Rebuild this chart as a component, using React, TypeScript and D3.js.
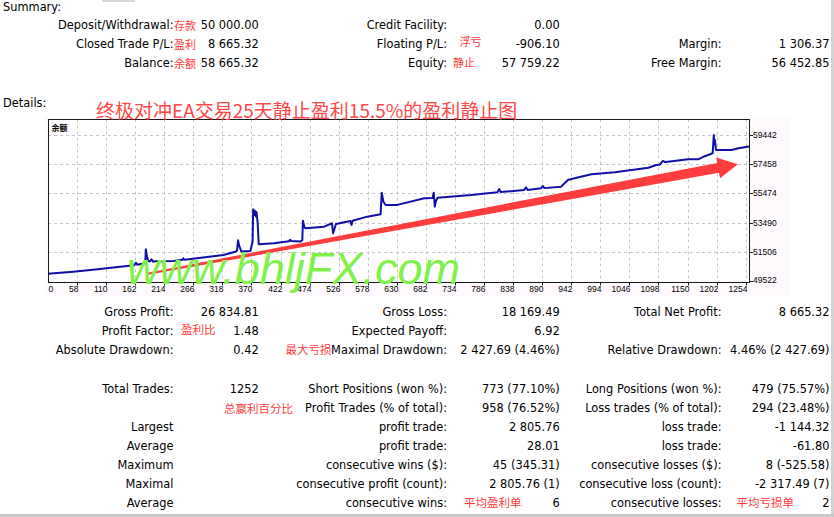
import React, { useEffect, useRef } from 'react';
import * as d3 from 'd3';

const W = 834;
const H = 517;

// balance curve (trade number -> balance)
const tradeNo = [
    6, 51, 99, 135, 160, 163, 166, 180, 181, 183, 185, 188, 191, 194, 198, 231, 247, 248, 250,
    320, 341, 344, 346, 348, 352, 368, 372, 373, 375, 376, 378, 379, 381, 383, 410, 437, 439, 441,
    458, 461, 462, 465, 467, 500, 514, 516, 518, 521, 547, 549, 551, 577, 601, 603, 606, 610, 631,
    679, 694, 696, 698, 700, 703, 763, 810, 813, 816, 858, 861, 864, 888, 891, 894, 924, 936, 948,
    978, 1020, 1050, 1080, 1094, 1100, 1106, 1110, 1115, 1151, 1169, 1181, 1195, 1197, 1198, 1199,
    1201, 1229, 1241, 1260,
];
const balance = [
    50000, 50148, 50331, 50488, 50590, 50760, 50620, 50740, 51670, 51200, 50900, 50840, 50990, 50830, 50860, 50880, 50960, 51060, 50960,
    51280, 51500, 51560, 52280, 51900, 51520, 51560, 52200, 54390, 54000, 54300, 53900, 54200, 53500, 52010, 52080, 52220, 52320, 52230,
    52200, 52300, 53620, 53150, 53100, 53210, 53440, 52760, 53000, 53390, 53600, 53320, 53610, 53890, 54050, 55520, 54900, 54680, 54690,
    55140, 55160, 55520, 54570, 54950, 55180, 55360, 55550, 55770, 55560, 55700, 55890, 55710, 55820, 55975, 55830, 55930, 56380, 56500,
    56770, 56910, 57060, 57220, 57400, 57420, 57680, 57600, 57630, 57790, 57790, 58000, 58200, 59440, 58800, 59100,
    58420, 58420, 58540, 58665,
];

const xTicks = [0, 58, 110, 162, 214, 266, 318, 370, 422, 474, 526, 578, 630, 682, 734, 786, 838, 890, 942, 994, 1046, 1098, 1150, 1202, 1254];
const yTicks = [49522, 51506, 53490, 55474, 57458, 59442];

// arrow annotation, in chart units: [trade, balance]
const arrowFrom = [182, 49990];
const arrowTo = [1240, 57450];

const chartTitle = '终极对冲EA交易25天静止盈利15.5%的盈利静止图';
const watermark = 'www.bhljFX.com';

// summary block: label, value, red note
const summaryCol1 = [['Deposit/Withdrawal:', '50 000.00', '存款'], ['Closed Trade P/L:', '8 665.32', '盈利'], ['Balance:', '58 665.32', '余额']];
const summaryCol2 = [['Credit Facility:', '0.00', ''], ['Floating P/L:', '-906.10', '浮亏'], ['Equity:', '57 759.22', '静止']];
const summaryCol3 = [['', '', ''], ['Margin:', '1 306.37', ''], ['Free Margin:', '56 452.85', '']];

const detailCol1 = [['Gross Profit:', '26 834.81'], ['Profit Factor:', '1.48'], ['Absolute Drawdown:', '0.42']];
const detailCol2 = [['Gross Loss:', '18 169.49'], ['Expected Payoff:', '6.92'], ['Maximal Drawdown:', '2 427.69 (4.46%)']];
const detailCol3 = [['Total Net Profit:', '8 665.32'], ['', ''], ['Relative Drawdown:', '4.46% (2 427.69)']];

const tradeCol1 = [['Total Trades:', '1252'], ['', ''], ['Largest', ''], ['Average', ''], ['Maximum', ''], ['Maximal', ''], ['Average', '']];
const tradeCol2 = [
    ['Short Positions (won %):', '773 (77.10%)'], ['Profit Trades (% of total):', '958 (76.52%)'], ['profit trade:', '2 805.76'],
    ['profit trade:', '28.01'], ['consecutive wins ($):', '45 (345.31)'], ['consecutive profit (count):', '2 805.76 (1)'], ['consecutive wins:', '6'],
];
const tradeCol3 = [
    ['Long Positions (won %):', '479 (75.57%)'], ['Loss trades (% of total):', '294 (23.48%)'], ['loss trade:', '-1 144.32'],
    ['loss trade:', '-61.80'], ['consecutive losses ($):', '8 (-525.58)'], ['consecutive loss (count):', '-2 317.49 (7)'], ['consecutive losses:', '2'],
];

// red notes in the lower part: text, x, baseline
const notes: Array<[string, number, number]> = [
    ['盈利比', 181, 334], ['最大亏损', 285.5, 354], ['总赢利百分比', 224, 413], ['平均盈利单', 464, 507], ['平均亏损单', 736.5, 507],
];

const App: React.FC = () => {
    const ref = useRef<SVGSVGElement | null>(null);

    useEffect(() => {
        const svg = d3.select(ref.current);
        svg.selectAll('*').remove();

        const font = "'DejaVu Sans', sans-serif";
        const cjk = "'Noto Sans CJK SC', sans-serif";
        const red = '#ff3b3b';

        svg.append('rect').attr('width', W).attr('height', H).attr('fill', '#fff');
        svg.append('rect').attr('x', 102).attr('y', 0).attr('width', 33).attr('height', 2).attr('fill', '#d8d8d8');
        svg.append('rect').attr('x', 831).attr('y', 0).attr('width', 3).attr('height', H).attr('fill', '#d2d2d2');
        svg.append('rect').attr('x', 0).attr('y', 514).attr('width', W).attr('height', 3).attr('fill', '#c8c8c8');

        const txt = (x: number, y: number, s: string, anchor = 'start') =>
            svg.append('text')
                .attr('x', x).attr('y', y)
                .attr('text-anchor', anchor)
                .attr('font-family', font)
                .attr('font-size', 11.4)
                .attr('fill', '#000')
                .text(s);
        const note = (x: number, y: number, s: string, size = 11.5) =>
            svg.append('text')
                .attr('x', x).attr('y', y)
                .attr('font-family', cjk)
                .attr('font-size', size)
                .attr('fill', red)
                .text(s);

        txt(3, 11, 'Summary:');
        txt(3, 106.5, 'Details:');

        // summary block
        const sumY = [29, 48, 67];
        summaryCol1.forEach((r, i) => { txt(173.5, sumY[i], r[0], 'end'); txt(258.7, sumY[i], r[1], 'end'); });
        summaryCol2.forEach((r, i) => { txt(447, sumY[i], r[0], 'end'); txt(559.7, sumY[i], r[1], 'end'); });
        summaryCol3.forEach((r, i) => { if (r[0]) { txt(721.5, sumY[i], r[0], 'end'); txt(829.5, sumY[i], r[1], 'end'); } });
        summaryCol1.forEach((r, i) => note(174, sumY[i] + 0.5, r[2], 11));
        note(459.5, 46, summaryCol2[1][2], 11);
        note(453, 67, summaryCol2[2][2], 11);

        // details block
        const detY = [316, 335, 354];
        detailCol1.forEach((r, i) => { txt(173.5, detY[i], r[0], 'end'); txt(258.7, detY[i], r[1], 'end'); });
        detailCol2.forEach((r, i) => { txt(447, detY[i], r[0], 'end'); txt(559.7, detY[i], r[1], 'end'); });
        detailCol3.forEach((r, i) => { if (r[0]) { txt(721.5, detY[i], r[0], 'end'); txt(829.5, detY[i], r[1], 'end'); } });

        const trY = [393, 412, 431, 450, 469, 488, 507];
        tradeCol1.forEach((r, i) => { if (r[0]) txt(173.5, trY[i], r[0], 'end'); if (r[1]) txt(258.7, trY[i], r[1], 'end'); });
        tradeCol2.forEach((r, i) => { txt(447, trY[i], r[0], 'end'); txt(559.7, trY[i], r[1], 'end'); });
        tradeCol3.forEach((r, i) => { txt(721.5, trY[i], r[0], 'end'); txt(829.5, trY[i], r[1], 'end'); });
        notes.forEach(([s, x, y]) => note(x, y, s));

        // chart
        const left = 48, right = 749, top = 119.5, bottom = 282.5;
        const x = d3.scaleLinear().domain([6, 1260]).range([left, right]);
        const y = d3.scaleLinear().domain([49522, 59442]).range([280.9, 135]);

        svg.append('rect').attr('x', 44).attr('y', 116).attr('width', 746).attr('height', 181).attr('fill', '#fdf9fd');
        svg.append('rect').attr('x', left).attr('y', top).attr('width', right - left).attr('height', bottom - top).attr('fill', '#fff');

        const defs = svg.append('defs');
        defs.append('clipPath').attr('id', 'plot')
            .append('rect').attr('x', left).attr('y', top).attr('width', right - left).attr('height', bottom - top);

        const grid = svg.append('g').attr('stroke', '#c6c6c6').attr('stroke-dasharray', '3,3').attr('stroke-width', 1);
        yTicks.slice(1).forEach(v => {
            const yy = Math.round(y(v)) + 0.5;
            grid.append('line').attr('x1', left).attr('x2', right).attr('y1', yy).attr('y2', yy);
        });
        xTicks.slice(1).forEach(t => {
            const xx = Math.round(x(t)) + 0.5;
            grid.append('line').attr('x1', xx).attr('x2', xx).attr('y1', top).attr('y2', bottom);
        });

        // arrow (annotation)
        const p0 = [x(arrowFrom[0]), y(arrowFrom[1])];
        const p1 = [x(arrowTo[0]), y(arrowTo[1])];
        const dx = p1[0] - p0[0], dy = p1[1] - p0[1];
        const len = Math.hypot(dx, dy);
        const ux = dx / len, uy = dy / len, nx = -uy, ny = ux;
        const headLen = 20, headW = 10.5, w0 = 1, w1 = 5;
        const hb = [p1[0] - ux * headLen, p1[1] - uy * headLen];
        const pts = [
            [p0[0] + nx * w0, p0[1] + ny * w0],
            [hb[0] + nx * w1, hb[1] + ny * w1],
            [hb[0] + nx * headW, hb[1] + ny * headW],
            p1,
            [hb[0] - nx * headW, hb[1] - ny * headW],
            [hb[0] - nx * w1, hb[1] - ny * w1],
            [p0[0] - nx * w0, p0[1] - ny * w0],
        ];
        svg.append('path').attr('d', 'M' + pts.map(p => p.join(',')).join('L') + 'Z').attr('fill', '#ff3d3d');

        // balance line
        const data = tradeNo.map((t, i) => [t, balance[i]] as [number, number]);
        const line = d3.line<[number, number]>().x(d => x(d[0])).y(d => y(d[1]));
        svg.append('path')
            .datum(data)
            .attr('clip-path', 'url(#plot)')
            .attr('fill', 'none')
            .attr('stroke', '#1010a8')
            .attr('stroke-width', 2)
            .attr('stroke-linejoin', 'round')
            .attr('d', line);

        // frame and ticks
        svg.append('rect').attr('x', left + 0.5).attr('y', top).attr('width', right - left).attr('height', bottom - top)
            .attr('fill', 'none').attr('stroke', '#1a1a1a');
        const ticks = svg.append('g').attr('stroke', '#1a1a1a');
        xTicks.slice(1).forEach(t => {
            const xx = Math.round(x(t)) + 0.5;
            ticks.append('line').attr('x1', xx).attr('x2', xx).attr('y1', bottom).attr('y2', bottom + 3);
        });
        yTicks.forEach(v => {
            const yy = Math.round(y(v)) + 0.5;
            ticks.append('line').attr('x1', right + 0.5).attr('x2', right + 4).attr('y1', yy).attr('y2', yy);
        });

        const axisFont = "'Liberation Sans', Arial, sans-serif";
        xTicks.forEach(t => {
            svg.append('text')
                .attr('x', t === 0 ? left + 0.5 : Math.round(x(t)) + 1.5)
                .attr('y', 291.8)
                .attr('text-anchor', t === 0 ? 'start' : 'end')
                .attr('font-family', axisFont).attr('font-size', 8.5).attr('fill', '#000')
                .text(t);
        });
        yTicks.forEach(v => {
            svg.append('text')
                .attr('x', 753)
                .attr('y', Math.min(y(v), 280) + 3)
                .attr('font-family', axisFont).attr('font-size', 8.5).attr('fill', '#000')
                .text(v);
        });

        svg.append('text').attr('x', 51.5).attr('y', 131).attr('font-family', cjk).attr('font-size', 8)
            .attr('font-weight', 'bold').attr('fill', '#000').text('余额');

        svg.append('text').attr('x', 96).attr('y', 117.5).attr('font-family', cjk).attr('font-size', 19)
            .attr('fill', '#ff4848').text(chartTitle);

        svg.append('text').attr('x', 127).attr('y', 284)
            .attr('font-family', axisFont).attr('font-style', 'italic').attr('font-size', 44)
            .attr('textLength', 333).attr('lengthAdjust', 'spacingAndGlyphs')
            .attr('fill', '#80f04a').text(watermark);
    }, []);

    return <svg ref={ref} width={W} height={H} style={{ position: 'absolute', left: 0, top: 0, display: 'block' }} />;
};

export default App;
